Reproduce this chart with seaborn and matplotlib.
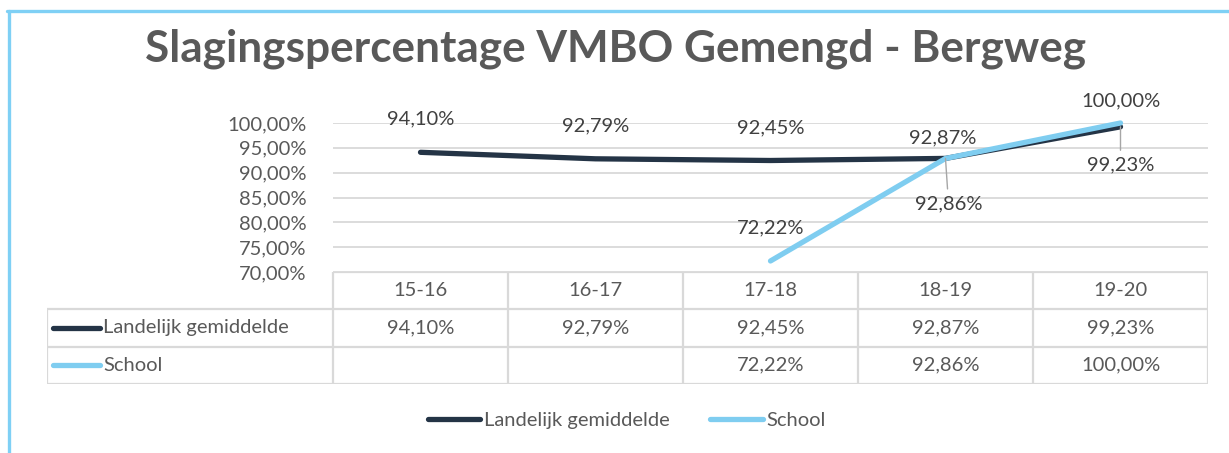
import numpy as np
import pandas as pd
import matplotlib
matplotlib.use("Agg")
import matplotlib.pyplot as plt
from matplotlib.lines import Line2D
import seaborn as sns

# ---------------- data ----------------
jaren = ["15-16", "16-17", "17-18", "18-19", "19-20"]
landelijk = [94.10, 92.79, 92.45, 92.87, 99.23]
school = [np.nan, np.nan, 72.22, 92.86, 100.00]
series_names = ["Landelijk gemiddelde", "School"]
y_ticks = [70, 75, 80, 85, 90, 95, 100]
title = "Slagingspercentage VMBO Gemengd - Bergweg"

# ---------------- style ----------------
sns.set_theme(style="white")
plt.rcParams["font.family"] = ["Lato", "DejaVu Sans"]
DARK = "#243446"
LIGHT = "#7fcdf0"
GRID = "#d9d9d9"
TXT = "#595959"
LBL = "#404040"
FS = 14.5

def fmt(v):
    if v is None or (isinstance(v, float) and np.isnan(v)):
        return ""
    return f"{v:.2f}".replace(".", ",") + "%"

df = pd.DataFrame({
    "jaar": jaren * 2,
    "serie": [series_names[0]] * len(jaren) + [series_names[1]] * len(jaren),
    "waarde": landelijk + school,
})

W, H = 1229, 453
fig = plt.figure(figsize=(W / 100, H / 100), dpi=100)

def fx(px):
    return px / W

def fy(py):
    return 1 - py / H

# main plot area
ax = fig.add_axes([fx(333), fy(272), fx(1208) - fx(333), fy(123) - fy(272)])
sns.lineplot(data=df, x="jaar", y="waarde", hue="serie",
             palette={series_names[0]: DARK, series_names[1]: LIGHT},
             linewidth=3.8, ax=ax, legend=False, sort=False)
for ln in ax.lines:
    ln.set_solid_capstyle("round")
    ln.set_clip_on(False)
ax.set_xlim(-0.5, len(jaren) - 0.5)
ax.set_ylim(70, 100)
ax.set_yticks(y_ticks)
ax.set_yticklabels([fmt(float(t)) for t in y_ticks], color=TXT, fontsize=FS)
ax.tick_params(axis="y", length=0, pad=19)
ax.set_xticks([])
ax.set_xlabel("")
ax.set_ylabel("")
for s in ax.spines.values():
    s.set_visible(False)
ax.grid(False)
for t in y_ticks:
    ax.axhline(t, color=GRID, lw=1.3, zorder=0)

# data labels
def lab(x, y, text, dx, dy, leader=False):
    kw = {}
    if leader:
        kw["arrowprops"] = dict(arrowstyle="-", color="#a6a6a6", lw=1.0,
                                shrinkA=2, shrinkB=0)
    ax.annotate(text, xy=(x, y), xytext=(dx, dy), textcoords="offset pixels",
                ha="center", va="center", fontsize=FS, color=LBL,
                annotation_clip=False, **kw)

lab(0, landelijk[0], fmt(landelijk[0]), 0, 33)
lab(1, landelijk[1], fmt(landelijk[1]), 0, 33)
lab(2, landelijk[2], fmt(landelijk[2]), 0, 33)
lab(3, landelijk[3], fmt(landelijk[3]), -3, 21)
lab(4, landelijk[4], fmt(landelijk[4]), 0, -38, leader=True)
lab(2, school[2], fmt(school[2]), 0, 33)
lab(3, school[3], fmt(school[3]), 3, -45, leader=True)
lab(4, school[4], fmt(school[4]), 0, 22)

# data table
left_px = 47
units_left = (333 - left_px) / 175.0
tax = fig.add_axes([fx(left_px), fy(384), fx(1208) - fx(left_px), fy(272) - fy(384)])
tax.set_xlim(-0.5 - units_left, len(jaren) - 0.5)
tax.set_ylim(3, 0)
tax.axis("off")
x0 = -0.5 - units_left
xr = len(jaren) - 0.5
lkw = dict(color=GRID, lw=1.6, solid_capstyle="butt")
tax.plot([-0.5, xr], [0, 0], **lkw)
for r in (1, 2, 3):
    tax.plot([x0, xr], [r, r], **lkw)
for i in range(len(jaren) + 1):
    tax.plot([i - 0.5, i - 0.5], [0, 3], **lkw)
tax.plot([x0, x0], [1, 3], **lkw)
for i, j in enumerate(jaren):
    tax.text(i, 0.5, j, ha="center", va="center", fontsize=FS, color=TXT)
    tax.text(i, 1.5, fmt(landelijk[i]), ha="center", va="center", fontsize=FS, color=TXT)
    tax.text(i, 2.5, fmt(school[i]), ha="center", va="center", fontsize=FS, color=TXT)
key0 = x0 + 6 / 175.0
key1 = x0 + 53 / 175.0
for r, (name, col) in enumerate(zip(series_names, [DARK, LIGHT])):
    tax.plot([key0, key1], [1.5 + r, 1.5 + r], color=col, lw=3.8, solid_capstyle="round")
    tax.text(key1 + 3 / 175.0, 1.5 + r, name, ha="left", va="center",
             fontsize=FS, color=TXT)

# bottom legend
handles = [Line2D([], [], color=DARK, lw=3.8, solid_capstyle="round"),
           Line2D([], [], color=LIGHT, lw=3.8, solid_capstyle="round")]
leg = fig.legend(handles, series_names, loc="center", ncol=2,
                 bbox_to_anchor=(fx(627), fy(420)), frameon=False,
                 fontsize=FS, handlelength=2.6, handletextpad=0.2,
                 columnspacing=2.0)
for t in leg.get_texts():
    t.set_color(TXT)

# title
fig.text(fx(616), fy(49), title, ha="center", va="center", fontsize=31.8,
         fontweight="bold", color=TXT)

# chart border (left + top)
fig.add_artist(Line2D([fx(8.5), fx(8.5)], [0, fy(11)], color="#7fd0f5", lw=2.4,
                      transform=fig.transFigure))
fig.add_artist(Line2D([fx(7.3), 1], [fy(11), fy(11)], color="#7fd0f5", lw=2.4,
                      transform=fig.transFigure))

fig.savefig("out.png", dpi=100, facecolor="white")
